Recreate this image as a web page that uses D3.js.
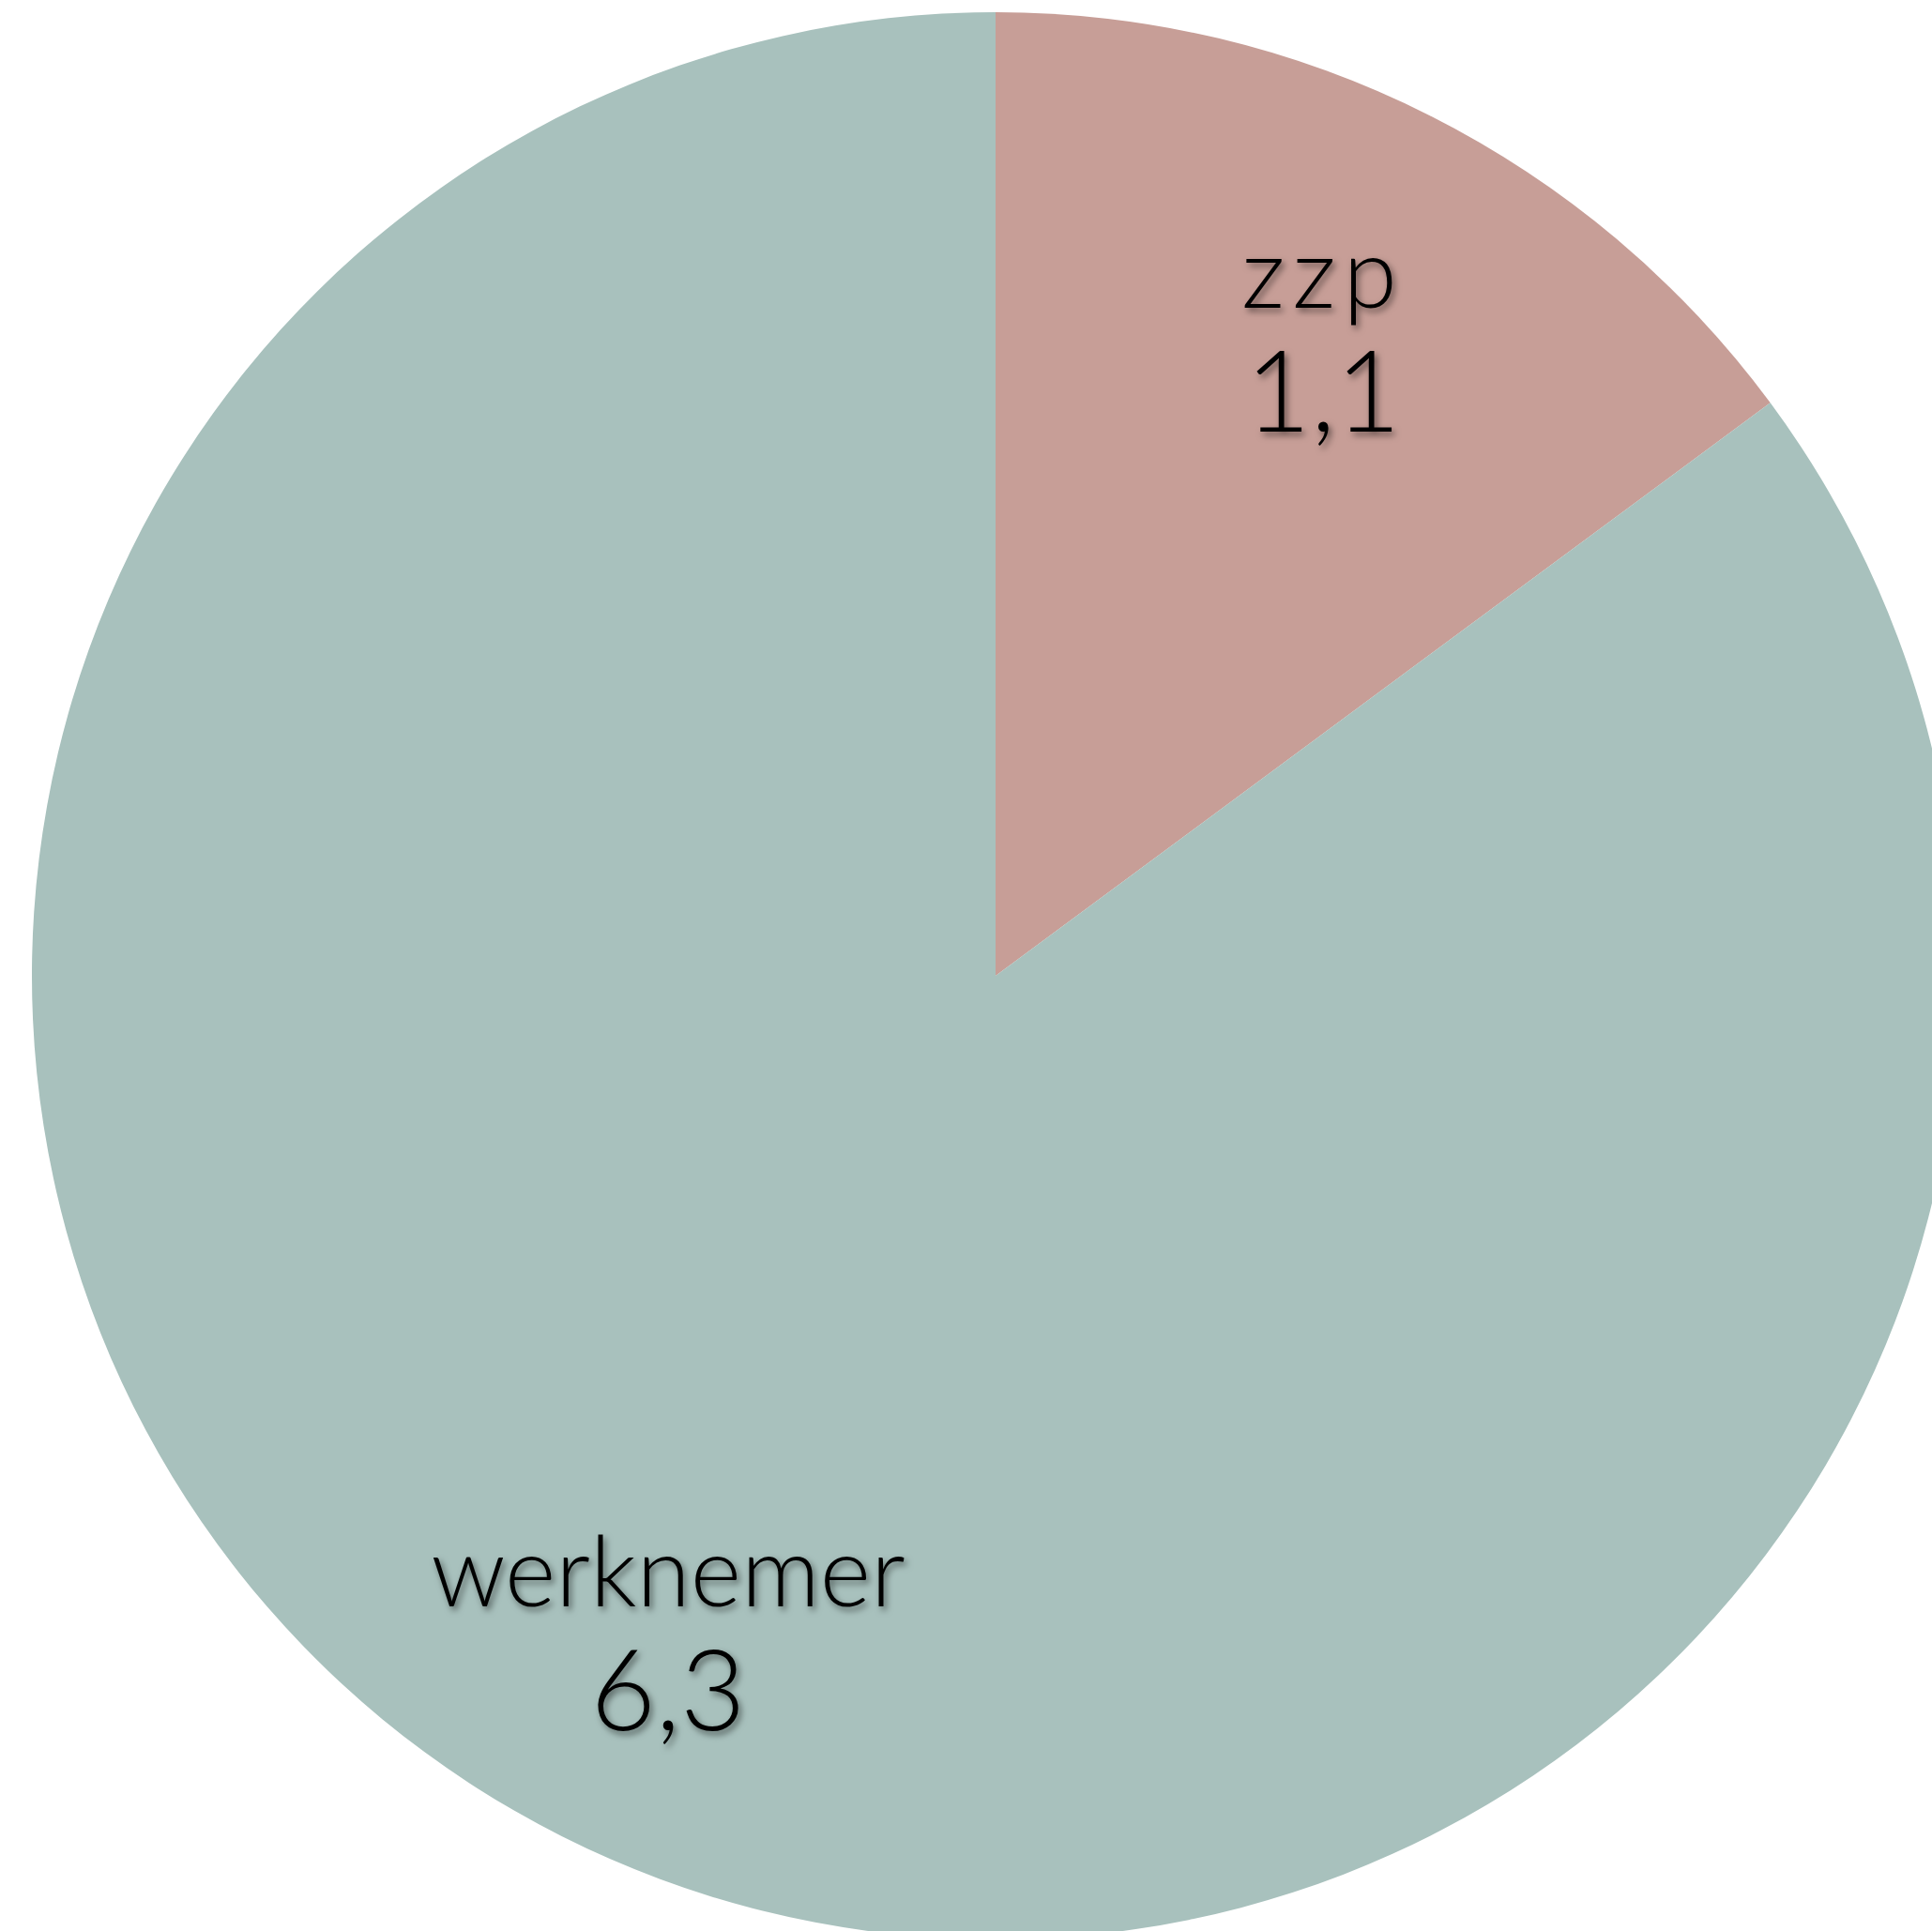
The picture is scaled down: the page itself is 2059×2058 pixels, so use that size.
<!DOCTYPE html>
<html>
<head>
<meta charset="utf-8">
<script src="https://cdn.jsdelivr.net/npm/d3@7"></script>
<style>
  html, body { margin: 0; padding: 0; background: #fff; overflow: hidden; }
</style>
</head>
<body>
<div id="chart"></div>
<script>
var categories = ["zzp", "werknemer"];
var values = [1.1, 6.3];
var valueLabels = ["1,1", "6,3"];
var colors = ["#c79e97", "#a8c1bd"];

var width = 2059,
    height = 2058;

var cx = 1061,
    cy = 1040,
    radius = 1027;

var svg = d3.select("#chart").append("svg")
    .attr("width", width)
    .attr("height", height);

// soft drop shadow under the labels
var filter = svg.append("defs").append("filter")
    .attr("id", "shadow")
    .attr("x", "-20%").attr("y", "-20%")
    .attr("width", "140%").attr("height", "140%");
filter.append("feDropShadow")
    .attr("dx", 3).attr("dy", 4)
    .attr("stdDeviation", 3.5)
    .attr("flood-color", "#000")
    .attr("flood-opacity", 0.5);

var pie = d3.pie().sort(null).value(function(d) { return d; });
var arcs = pie(values);

var arc = d3.arc().innerRadius(0).outerRadius(radius);
var labelArc = d3.arc().innerRadius(radius * 0.755).outerRadius(radius * 0.755);

var g = svg.append("g").attr("transform", "translate(" + cx + "," + cy + ")");

g.selectAll(".slice").data(arcs).enter().append("path")
    .attr("class", "slice")
    .attr("d", arc)
    .attr("fill", function(d, i) { return colors[i]; });

var labels = g.selectAll(".label").data(arcs).enter().append("g")
    .attr("class", "label")
    .attr("transform", function(d) { return "translate(" + labelArc.centroid(d) + ")"; })
    .attr("filter", "url(#shadow)")
    .style("font-family", "Lato, 'Open Sans', sans-serif")
    .style("font-weight", 300)
    .attr("text-anchor", "middle")
    .attr("fill", "#000");

labels.append("text")
    .attr("y", -20)
    .style("font-size", "104px")
    .style("letter-spacing", function(d, i) { return i == 0 ? "8px" : "0px"; })
    .text(function(d, i) { return categories[i]; });

labels.append("text")
    .attr("y", 112)
    .style("font-size", "120px")
    .text(function(d, i) { return valueLabels[i]; });
</script>
</body>
</html>
